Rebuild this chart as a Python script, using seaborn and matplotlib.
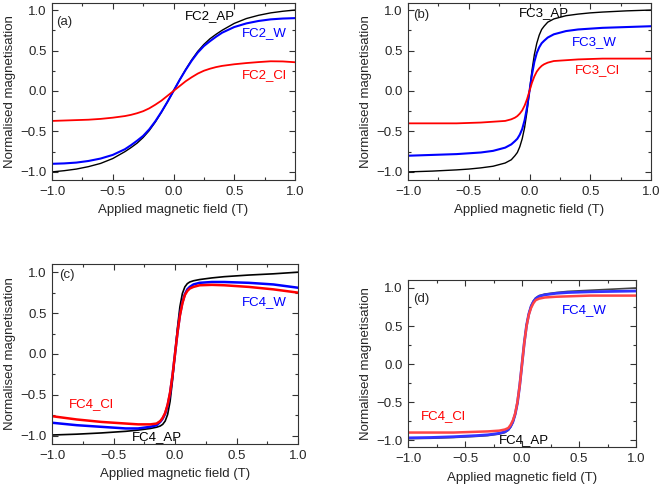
import numpy as np
import pandas as pd
import matplotlib
matplotlib.use("Agg")
import matplotlib.pyplot as plt
from matplotlib.ticker import MultipleLocator
import seaborn as sns

# ---------------- data ----------------
xa = [-1.0, -0.9, -0.8, -0.7, -0.6, -0.5, -0.4, -0.35, -0.3, -0.25, -0.2, -0.15, -0.1, -0.05, 0.0,
      0.05, 0.1, 0.15, 0.2, 0.25, 0.3, 0.35, 0.4, 0.5, 0.6, 0.7, 0.8, 0.9, 1.0]
a_ap = [-1.0, -0.985, -0.965, -0.935, -0.895, -0.835, -0.75, -0.70, -0.645, -0.575, -0.49, -0.385, -0.265, -0.135, 0.0,
        0.135, 0.265, 0.385, 0.49, 0.575, 0.645, 0.70, 0.75, 0.835, 0.895, 0.935, 0.965, 0.985, 1.0]
a_w = [-0.90, -0.895, -0.885, -0.865, -0.835, -0.79, -0.72, -0.67, -0.615, -0.555, -0.475, -0.375, -0.26, -0.135, 0.0,
       0.135, 0.26, 0.375, 0.475, 0.555, 0.615, 0.67, 0.72, 0.79, 0.835, 0.865, 0.885, 0.895, 0.90]
a_cl = [-0.37, -0.365, -0.36, -0.355, -0.345, -0.33, -0.31, -0.295, -0.275, -0.25, -0.215, -0.17, -0.12, -0.06, 0.0,
        0.06, 0.12, 0.17, 0.215, 0.25, 0.275, 0.295, 0.31, 0.33, 0.345, 0.357, 0.367, 0.365, 0.355]

xb = [-1.0, -0.8, -0.6, -0.5, -0.4, -0.3, -0.25, -0.2, -0.15, -0.12, -0.1, -0.08, -0.06, -0.04, -0.02, 0.0,
      0.02, 0.04, 0.06, 0.08, 0.1, 0.12, 0.15, 0.2, 0.25, 0.3, 0.4, 0.5, 0.6, 0.8, 1.0]
b_ap = [-1.0, -0.99, -0.975, -0.965, -0.95, -0.93, -0.91, -0.89, -0.85, -0.80, -0.76, -0.69, -0.59, -0.45, -0.25, 0.0,
        0.25, 0.45, 0.59, 0.69, 0.76, 0.80, 0.85, 0.89, 0.91, 0.93, 0.95, 0.965, 0.975, 0.99, 1.0]
b_w = [-0.80, -0.79, -0.78, -0.77, -0.76, -0.74, -0.72, -0.70, -0.66, -0.62, -0.59, -0.54, -0.47, -0.36, -0.20, 0.0,
       0.20, 0.36, 0.47, 0.54, 0.59, 0.62, 0.66, 0.70, 0.72, 0.74, 0.76, 0.77, 0.78, 0.79, 0.80]
b_cl = [-0.40, -0.40, -0.40, -0.395, -0.39, -0.38, -0.375, -0.37, -0.35, -0.33, -0.31, -0.28, -0.24, -0.18, -0.10, 0.0,
        0.10, 0.18, 0.24, 0.28, 0.31, 0.33, 0.35, 0.37, 0.375, 0.38, 0.39, 0.395, 0.40, 0.40, 0.40]

xc = [-1.0, -0.8, -0.6, -0.4, -0.3, -0.2, -0.15, -0.12, -0.1, -0.08, -0.06, -0.04, -0.02, 0.0,
      0.02, 0.04, 0.06, 0.08, 0.1, 0.12, 0.15, 0.2, 0.3, 0.4, 0.6, 0.8, 1.0]
c_ap = [-0.99, -0.98, -0.965, -0.945, -0.93, -0.91, -0.895, -0.88, -0.86, -0.82, -0.74, -0.58, -0.32, 0.0,
        0.32, 0.58, 0.74, 0.82, 0.86, 0.88, 0.895, 0.91, 0.93, 0.945, 0.965, 0.98, 1.0]
c_w = [-0.84, -0.87, -0.89, -0.91, -0.91, -0.89, -0.87, -0.83, -0.79, -0.73, -0.63, -0.48, -0.26, 0.0,
       0.26, 0.48, 0.63, 0.73, 0.79, 0.82, 0.85, 0.87, 0.88, 0.88, 0.87, 0.85, 0.81]
c_cl = [-0.76, -0.80, -0.83, -0.85, -0.86, -0.86, -0.85, -0.82, -0.78, -0.72, -0.62, -0.47, -0.26, 0.0,
        0.26, 0.47, 0.62, 0.72, 0.77, 0.80, 0.82, 0.84, 0.845, 0.84, 0.82, 0.79, 0.75]

xd = xc
d_ap = [-0.98, -0.975, -0.965, -0.95, -0.94, -0.92, -0.90, -0.87, -0.83, -0.77, -0.67, -0.52, -0.29, 0.0,
        0.29, 0.52, 0.67, 0.77, 0.83, 0.87, 0.90, 0.92, 0.94, 0.955, 0.97, 0.985, 1.0]
d_w = [-0.97, -0.965, -0.955, -0.94, -0.93, -0.91, -0.89, -0.86, -0.82, -0.76, -0.66, -0.51, -0.28, 0.0,
       0.28, 0.51, 0.66, 0.76, 0.82, 0.86, 0.89, 0.91, 0.93, 0.94, 0.95, 0.955, 0.96]
d_cl = [-0.90, -0.90, -0.90, -0.89, -0.885, -0.875, -0.86, -0.84, -0.80, -0.74, -0.65, -0.50, -0.28, 0.0,
        0.28, 0.50, 0.65, 0.74, 0.80, 0.84, 0.86, 0.875, 0.885, 0.89, 0.90, 0.90, 0.90]

# ---------------- style ----------------
sns.set_style("ticks")
plt.rcParams['font.family'] = ['Liberation Sans', 'DejaVu Sans']
FS = 9.5
plt.rcParams['font.size'] = FS

fig = plt.figure(figsize=(6.61, 4.84), dpi=100)
W, H = 661.0, 484.0

def make_ax(l, r, t, b):
    return fig.add_axes([l / W, (H - b) / H, (r - l) / W, (b - t) / H])

axes_spec = [
    dict(box=(52, 295, 3, 180), ylim=(-1.1, 1.087), x=xa,
         series=[(a_ap, 'black', 1.0), (a_w, '#0000ff', 1.5), (a_cl, '#ff0000', 1.3)],
         tag='(a)', tagpos=(-0.90, 0.85),
         labels=[('FC2_AP', 0.30, 0.92, 'black'), ('FC2_W', 0.75, 0.71, '#0000ff'),
                 ('FC2_Cl', 0.75, 0.20, '#ff0000')]),
    dict(box=(408, 651, 3, 180), ylim=(-1.1, 1.087), x=xb,
         series=[(b_ap, 'black', 1.0), (b_w, '#0000ff', 1.5), (b_cl, '#ff0000', 1.3)],
         tag='(b)', tagpos=(-0.89, 0.94),
         labels=[('FC3_AP', 0.12, 0.96, 'black'), ('FC3_W', 0.53, 0.61, '#0000ff'),
                 ('FC3_Cl', 0.56, 0.26, '#ff0000')]),
    dict(box=(52, 298, 264, 444), ylim=(-1.1, 1.1), x=xc,
         series=[(c_ap, 'black', 1.2), (c_w, '#0000ff', 1.8), (c_cl, '#ff0000', 1.8)],
         tag='(c)', tagpos=(-0.88, 0.96),
         labels=[('FC4_W', 0.73, 0.63, '#0000ff'), ('FC4_Cl', -0.68, -0.61, '#ff0000'),
                 ('FC4_AP', -0.15, -1.01, 'black')]),
    dict(box=(408, 636, 280, 447), ylim=(-1.09, 1.105), x=xd,
         series=[(d_ap, '#444444', 1.2), (d_w, '#3333ff', 2.0), (d_cl, '#ff4444', 1.8)],
         tag='(d)', tagpos=(-0.88, 0.86),
         labels=[('FC4_W', 0.55, 0.71, '#0000ff'), ('FC4_Cl', -0.69, -0.68, '#ff0000'),
                 ('FC4_AP', 0.02, -1.00, 'black')]),
]

for spec in axes_spec:
    ax = make_ax(*spec['box'])
    for yv, col, lw in spec['series']:
        df = pd.DataFrame({'x': spec['x'], 'y': yv})
        sns.lineplot(data=df, x='x', y='y', ax=ax, color=col, lw=lw,
                     estimator=None, sort=False)
    ax.set_xlim(-1.0, 1.0)
    ax.set_ylim(*spec['ylim'])
    ax.xaxis.set_major_locator(MultipleLocator(0.5))
    ax.xaxis.set_minor_locator(MultipleLocator(0.25))
    ax.yaxis.set_major_locator(MultipleLocator(0.5))
    ax.yaxis.set_minor_locator(MultipleLocator(0.25))
    ax.tick_params(which='both', direction='in', top=True, right=True,
                   labelsize=FS, width=0.8, color='#333333')
    ax.tick_params(which='major', length=4, pad=4)
    ax.tick_params(which='minor', length=2)
    for s in ax.spines.values():
        s.set_linewidth(0.8)
        s.set_color('#333333')
    ax.set_xlabel('Applied magnetic field (T)', fontsize=FS, labelpad=5)
    ax.set_ylabel('Normalised magnetisation', fontsize=FS, labelpad=3)
    ax.text(spec['tagpos'][0], spec['tagpos'][1], spec['tag'], fontsize=FS,
            ha='center', va='center')
    for txt, tx, ty, col in spec['labels']:
        ax.text(tx, ty, txt, fontsize=FS, color=col, ha='center', va='center')

fig.savefig('out.png', dpi=100)
